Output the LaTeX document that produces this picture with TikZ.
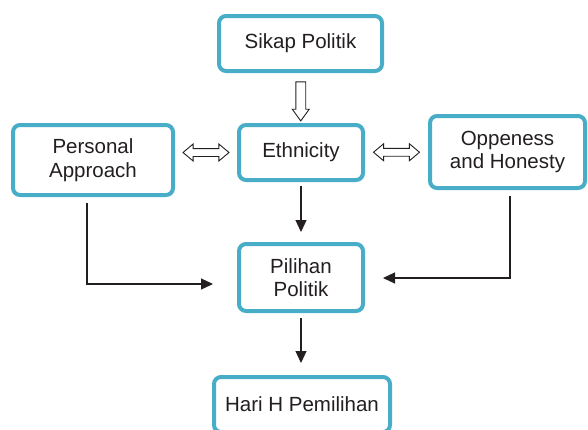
\documentclass[tikz,border=0pt]{standalone}
\usepackage{fontspec}
\setmainfont{Liberation Sans}
\usetikzlibrary{arrows.meta,shapes.arrows,calc}
\definecolor{boxblue}{RGB}{72,174,200}
\definecolor{ink}{RGB}{35,31,32}

\begin{document}
\begin{tikzpicture}[x=1pt,y=-1pt,
   box/.style={draw=boxblue, line width=4pt, rounded corners=7pt, fill=white, align=center,
      text=ink, font=\fontsize{20.5}{23.5}\selectfont, inner sep=0pt},
   link/.style={draw=ink, line width=1.2pt, -{Triangle[length=12pt,width=11pt]}},
   hollow/.style={single arrow, draw=ink, fill=white, line width=0.9pt, inner sep=4.5pt,
      minimum height=39pt, single arrow head extend=3.5pt,
      single arrow tip angle=72, shape border rotate=270},
   twoway/.style={double arrow, draw=ink, fill=white, line width=0.9pt, inner sep=3.5pt,
      minimum height=46pt, double arrow head extend=4.5pt,
      double arrow tip angle=80}]
   \useasboundingbox (0,0) rectangle (588,429);
   \node[box, minimum width=163pt, minimum height=55pt] (sikap) at (300.5,43.5) {Sikap Politik};
   \node[box, minimum width=124pt, minimum height=55pt] (eth) at (301,152.5) {Ethnicity};
   \node[box, minimum width=160pt, minimum height=70pt] (pers) at (93,160) {Personal\\Approach};
   \node[box, minimum width=155pt, minimum height=72pt] (open) at (507.5,152) {Oppeness\\and Honesty};
   \node[box, minimum width=124pt, minimum height=67pt] (pil) at (301,277.5) {Pilihan\\Politik};
   \node[box, minimum width=176pt, minimum height=55pt] (hari) at (302,404.5) {Hari H Pemilihan};
   \node[hollow] (down) at ($(sikap.south)!0.5!(eth.north)$) {};
   \node[twoway] (lefttwo) at ($(pers.east |- eth.west)!0.5!(eth.west)$) {};
   \node[twoway] (righttwo) at ($(eth.east)!0.5!(open.west)$) {};
   \draw[link, shorten <=4pt, shorten >=10pt] (eth) -- (pil);
   \draw[link, shorten <=5pt, shorten >=12pt] (pil.south) -- (pil.south |- hari.north);
   \draw[link, shorten >=24pt] ([xshift=-6pt,yshift=-6pt]pers.south) |- ([yshift=-6.5pt]pil.west);
   \draw[link, shorten >=18pt] ([xshift=2.5pt,yshift=-6pt]open.south) |- ([yshift=-0.5pt]pil.east);
\end{tikzpicture}
\end{document}
